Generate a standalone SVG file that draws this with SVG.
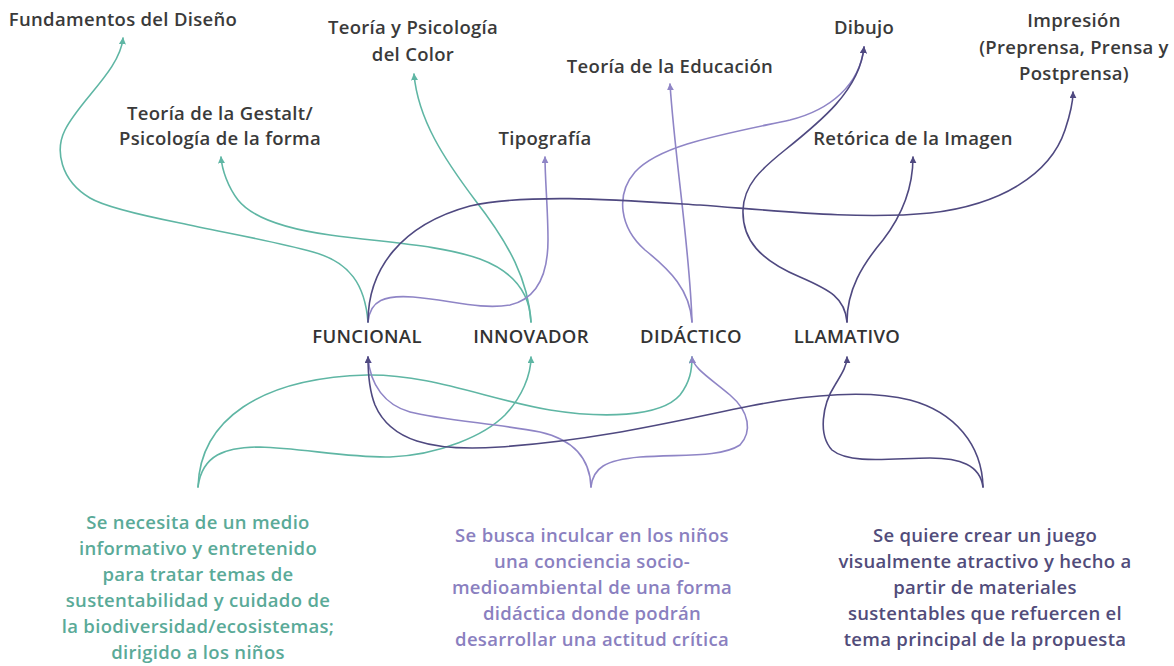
<svg xmlns="http://www.w3.org/2000/svg" width="1174" height="666" viewBox="0 0 1174 666">
<style>
text{font-family:"Open Sans","Noto Sans","Liberation Sans",sans-serif;font-weight:600;text-anchor:middle;letter-spacing:0.3px}
.lbl{font-size:18.5px;fill:#3a3a3a}
.node{font-size:18.5px;fill:#333}
.tt{font-size:18.5px;fill:#5aaa98}
.tp{font-size:18.5px;fill:#8a80bf}
.td{font-size:18.5px;fill:#514c7a}
.c{fill:none;stroke-width:1.6;stroke-linecap:round}
.teal{stroke:#5fb6a4}
.lp{stroke:#8f85c6}
.dp{stroke:#4f4980}
</style>
<defs>
<marker id="aT" viewBox="0 0 10 10" refX="9" refY="5" markerWidth="7" markerHeight="7" markerUnits="userSpaceOnUse" orient="auto"><path d="M0,0L10,5L0,10z" fill="#5fb6a4"/></marker>
<marker id="aL" viewBox="0 0 10 10" refX="9" refY="5" markerWidth="7" markerHeight="7" markerUnits="userSpaceOnUse" orient="auto"><path d="M0,0L10,5L0,10z" fill="#8f85c6"/></marker>
<marker id="aD" viewBox="0 0 10 10" refX="9" refY="5" markerWidth="7" markerHeight="7" markerUnits="userSpaceOnUse" orient="auto"><path d="M0,0L10,5L0,10z" fill="#4f4980"/></marker>
</defs>

<g id="connectors">
<!-- top: teal -->
<path class="c teal" marker-end="url(#aT)" d="M368,322 C365,285 350,262 313,252 C270,240 220,232 180,223 C140,215 105,207 90,198 C60,180 55,150 65,130 C80,100 120,70 123,38"/>
<path class="c teal" marker-end="url(#aT)" d="M531,322 C530,295 515,272 480,259 C440,245 390,243 330,235 C280,228 250,215 238,200 C228,187 222,170 221,157"/>
<path class="c teal" marker-end="url(#aT)" d="M531,322 C528,280 510,245 475,200 C445,160 418,120 414,74"/>
<!-- top: light purple -->
<path class="c lp" marker-end="url(#aL)" d="M368,322 C370,300 385,295 413,297 C450,300 480,310 510,305 C540,298 548,270 548,240 C548,210 545,180 545,157"/>
<path class="c lp" marker-end="url(#aL)" d="M692,322 C690,250 675,160 670,84"/>
<path class="c lp" marker-end="url(#aL)" d="M692,322 C690,290 670,270 645,250 C620,228 615,195 635,172 C660,145 720,135 790,120 C830,110 860,85 864,47"/>
<!-- top: dark purple -->
<path class="c dp" marker-end="url(#aD)" d="M368,322 C368,270 400,225 470,206 C530,193 620,200 700,205 C780,211 860,220 930,213 C1000,205 1050,175 1065,130 C1070,115 1073,100 1073,92"/>
<path class="c dp" marker-end="url(#aD)" d="M847,322 C845,298 830,290 800,277 C760,260 742,240 743,210 C744,185 760,170 785,150 C820,122 860,90 864,47"/>
<path class="c dp" marker-end="url(#aD)" d="M847,322 C847,290 862,265 883,240 C900,218 913,190 913,157"/>
<!-- bottom: teal -->
<path class="c teal" marker-end="url(#aT)" d="M198,487 C200,420 260,378 367,375 C430,374 490,400 550,410 C600,418 660,418 680,395 C690,382 692,370 692,357"/>
<path class="c teal" marker-end="url(#aT)" d="M198,487 C202,455 225,447 260,447 C300,448 350,458 390,457 C440,455 485,435 505,415 C522,397 531,375 531,357"/>
<!-- bottom: light purple -->
<path class="c lp" marker-end="url(#aL)" d="M591,487 C590,460 575,440 540,432 C500,424 440,420 410,412 C385,405 370,385 368,357"/>
<path class="c lp" marker-end="url(#aL)" d="M591,487 C593,468 605,460 640,457 C680,454 720,458 740,445 C752,432 750,412 730,395 C710,378 693,368 692,357"/>
<!-- bottom: dark purple -->
<path class="c dp" marker-end="url(#aD)" d="M983,487 C982,445 955,412 910,400 C870,390 810,394 750,406 C680,420 600,440 500,447 C430,452 390,440 375,405 C369,390 368,375 368,357"/>
<path class="c dp" marker-end="url(#aD)" d="M983,487 C980,465 960,458 930,458 C895,458 850,465 832,450 C818,435 822,405 835,385 C843,372 847,365 847,357"/>
</g>

<g id="n-fundamentos"><text class="lbl" x="123" y="26">Fundamentos del Diseño</text></g>
<g id="n-color"><text class="lbl" x="413" y="34">Teoría y Psicología</text><text class="lbl" x="413" y="60.5">del Color</text></g>
<g id="n-educacion"><text class="lbl" x="670" y="72.5">Teoría de la Educación</text></g>
<g id="n-dibujo"><text class="lbl" x="864" y="34">Dibujo</text></g>
<g id="n-impresion"><text class="lbl" x="1074" y="27">Impresión</text><text class="lbl" x="1074" y="53.5">(Preprensa, Prensa y</text><text class="lbl" x="1074" y="80">Postprensa)</text></g>
<g id="n-gestalt"><text class="lbl" x="220" y="119.5">Teoría de la Gestalt/</text><text class="lbl" x="220" y="145">Psicología de la forma</text></g>
<g id="n-tipografia"><text class="lbl" x="545" y="144.5">Tipografía</text></g>
<g id="n-retorica"><text class="lbl" x="913" y="145">Retórica de la Imagen</text></g>

<g id="n-funcional"><text class="node" x="367" y="343">FUNCIONAL</text></g>
<g id="n-innovador"><text class="node" x="531" y="343">INNOVADOR</text></g>
<g id="n-didactico"><text class="node" x="691" y="343">DIDÁCTICO</text></g>
<g id="n-llamativo"><text class="node" x="847" y="343">LLAMATIVO</text></g>

<g id="n-texto-funcional">
<text class="tt" x="198" y="529">Se necesita de un medio</text>
<text class="tt" x="198" y="555">informativo y entretenido</text>
<text class="tt" x="198" y="581">para tratar temas de</text>
<text class="tt" x="198" y="607">sustentabilidad y cuidado de</text>
<text class="tt" x="198" y="633">la biodiversidad/ecosistemas;</text>
<text class="tt" x="198" y="659">dirigido a los niños</text>
</g>
<g id="n-texto-didactico">
<text class="tp" x="592" y="541.5">Se busca inculcar en los niños</text>
<text class="tp" x="592" y="567.5">una conciencia socio-</text>
<text class="tp" x="592" y="593.5">medioambiental de una forma</text>
<text class="tp" x="592" y="619.5">didáctica donde podrán</text>
<text class="tp" x="592" y="645.5">desarrollar una actitud crítica</text>
</g>
<g id="n-texto-llamativo">
<text class="td" x="985" y="541.5">Se quiere crear un juego</text>
<text class="td" x="985" y="567.5">visualmente atractivo y hecho a</text>
<text class="td" x="985" y="593.5">partir de materiales</text>
<text class="td" x="985" y="619.5">sustentables que refuercen el</text>
<text class="td" x="985" y="645.5">tema principal de la propuesta</text>
</g>
</svg>
